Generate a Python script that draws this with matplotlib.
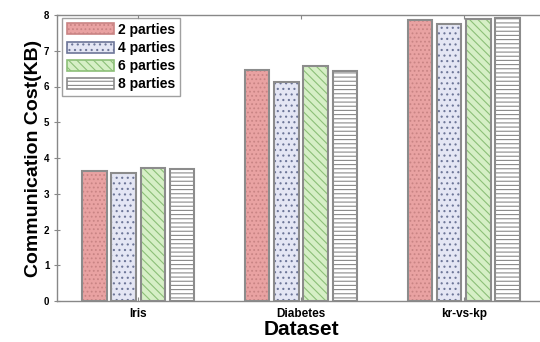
import numpy as np
import matplotlib.pyplot as plt
import matplotlib.patches as mpatches

plt.rcParams['font.family'] = ['Liberation Sans', 'DejaVu Sans']
plt.rcParams['font.weight'] = 'bold'
plt.rcParams['hatch.linewidth'] = 0.8

# ===== データ =====
datasets = ['Iris', 'Diabetes', 'kr-vs-kp']
series_names = ['2 parties', '4 parties', '6 parties', '8 parties']
cost_2 = [3.65, 6.47, 7.87]
cost_4 = [3.57, 6.13, 7.76]
cost_6 = [3.73, 6.56, 7.88]
cost_8 = [3.68, 6.42, 7.93]
all_costs = [cost_2, cost_4, cost_6, cost_8]

# スタイル
FACE = ['#e9a2a2', '#e4e6f4', '#d6efc6', '#ffffff']
HATCH_COLOR = ['#c98484', '#6d7698', '#8cbf78', '#8a8a8a']
HATCH = ['....', '...', '\\\\\\\\', '----']
EDGE = '#8c8c8c'
BAR_W = 0.15
OFFSETS = [-0.27, -0.09, 0.09, 0.27]

fig = plt.figure(figsize=(5.4, 3.42), dpi=100)
ax = fig.add_axes([57 / 540, 41 / 342, 488 / 540, 286 / 342])

x = np.arange(1, len(datasets) + 1)
handles = []
for i, vals in enumerate(all_costs):
    ax.bar(x + OFFSETS[i], vals, BAR_W, color=FACE[i], hatch=HATCH[i],
           edgecolor=HATCH_COLOR[i], linewidth=0, zorder=2)
    ax.bar(x + OFFSETS[i], vals, BAR_W, facecolor='none',
           edgecolor=EDGE, linewidth=1.5, zorder=3)
    # 凡例用パッチ
    handles.append(mpatches.Patch(facecolor=FACE[i], hatch=HATCH[i],
                                  edgecolor=HATCH_COLOR[i], linewidth=1.2,
                                  label=series_names[i]))

ax.set_xlim(0.5, 3.5)
ax.set_ylim(0, 8)
ax.set_xticks(x)
ax.set_xticklabels(datasets)
ax.set_yticks(range(0, 9))
ax.tick_params(axis='y', direction='inout', labelsize=7, length=5,
               color='#888888', right=True, pad=3)
ax.tick_params(axis='x', direction='in', labelsize=8.5, length=3,
               color='#888888', top=True, pad=5)
for s in ax.spines.values():
    s.set_color('#888888')
    s.set_linewidth(1.0)

ax.set_ylabel('Communication Cost(KB)', fontsize=14, fontweight='bold', labelpad=1)
ax.set_xlabel('Dataset', fontsize=15, fontweight='bold', labelpad=0)

leg = ax.legend(handles=handles, loc='upper left', bbox_to_anchor=(0.01, 0.99),
                fontsize=10, frameon=True, fancybox=False, handlelength=3.4,
                handleheight=0.85, handletextpad=0.3, borderpad=0.35,
                labelspacing=0.3, borderaxespad=0.0)
leg.get_frame().set_edgecolor('#888888')
leg.get_frame().set_linewidth(1.0)

plt.savefig('out.png', dpi=100)
